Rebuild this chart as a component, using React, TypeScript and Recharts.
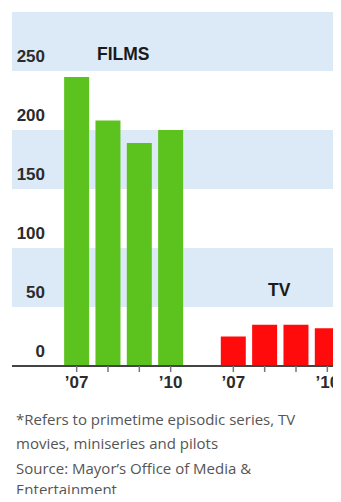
import { BarChart, Bar, XAxis, YAxis, CartesianGrid, ReferenceLine } from "recharts";

// nine slots: four film years, one empty spacer, four TV years
const slots = ["f07", "f08", "f09", "f10", "gap", "t07", "t08", "t09", "t10"];
const tickText = ["\u201907", "", "", "\u201910", "", "\u201907", "", "", "\u201910"];
const films = [245, 208, 189, 200, null, null, null, null, null];
const tv = [null, null, null, null, null, 25, 35, 35, 32];
const yTicks = [0, 50, 100, 150, 200, 250, 300];

const data = slots.map((s, i) => ({ slot: s, label: tickText[i], films: films[i], tv: tv[i] }));

const GREEN = "#5CC21E";
const RED = "#FF0B0B";
const BAND = "#DCEAF8";
const INK = "#2b2b2b";
const LABEL_FONT = "'Liberation Sans', Arial, sans-serif";

function YTick({ y, payload }: any) {
  if (payload.value === 300) return null;
  return (
    <text x={45} y={y - 9} textAnchor="end" fontFamily={LABEL_FONT} fontWeight={700} fontSize={17} fill={INK}>
      {payload.value}
    </text>
  );
}

function XTick({ x, y, payload, index }: any) {
  if (payload.value === "gap") return null;
  return (
    <g>
      <line x1={x} x2={x} y1={y - 8} y2={y - 2} stroke="#777" strokeWidth={1.5} />
      <text x={x} y={y + 14} textAnchor="middle" fontFamily={LABEL_FONT} fontWeight={700} fontSize={17} fill={INK}>
        {data[index]?.label}
      </text>
    </g>
  );
}

export default function App() {
  return (
    <div style={{ position: "relative", margin: -8, width: 341, height: 502, overflow: "hidden", background: "#fff" }}>
      <BarChart
        width={343}
        height={394}
        data={data}
        margin={{ top: 12, right: 0, left: 12, bottom: 0 }}
        barCategoryGap="10%"
      >
        <CartesianGrid vertical={false} stroke="none" horizontalFill={[BAND, "#ffffff"]} />
        <YAxis
          mirror
          width={40}
          domain={[0, 300]}
          ticks={yTicks}
          axisLine={false}
          tickLine={false}
          tick={<YTick />}
        />
        <XAxis
          dataKey="slot"
          height={28}
          padding={{ left: 49, right: 0 }}
          axisLine={false}
          tickLine={false}
          tick={<XTick />}
          interval={0}
        />
        <Bar dataKey="films" stackId="a" fill={GREEN} isAnimationActive={false} />
        <Bar dataKey="tv" stackId="a" fill={RED} isAnimationActive={false} />
        <ReferenceLine y={0} stroke="#444" strokeWidth={2} />
      </BarChart>
      <div style={{ position: "absolute", left: 97, top: 44, fontFamily: LABEL_FONT, fontWeight: 700, fontSize: 17.5, color: "#1a1a1a" }}>
        FILMS
      </div>
      <div style={{ position: "absolute", left: 268, top: 280, fontFamily: LABEL_FONT, fontWeight: 700, fontSize: 17.5, color: "#1a1a1a" }}>
        TV
      </div>
      <div style={{ position: "absolute", left: 16, top: 407, width: 330, fontFamily: "'Open Sans', Arial, sans-serif", fontSize: 15, color: "#555", whiteSpace: "nowrap" }}>
        <div style={{ lineHeight: "25px" }}>*Refers to primetime episodic series, TV</div>
        <div style={{ lineHeight: "23px" }}>movies, miniseries and pilots</div>
        <div style={{ lineHeight: "22px", marginTop: 2 }}>Source: Mayor’s Office of Media &amp;</div>
        <div style={{ lineHeight: "20px" }}>Entertainment</div>
      </div>
    </div>
  );
}
